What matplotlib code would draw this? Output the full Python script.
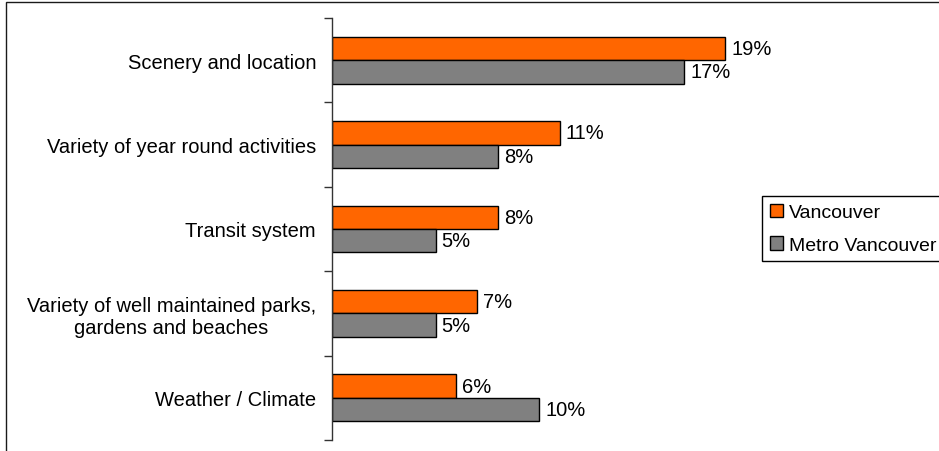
import numpy as np
import matplotlib.pyplot as plt
from matplotlib.patches import Rectangle

plt.rcParams['font.family'] = ['Liberation Sans', 'DejaVu Sans']

categories = ['Scenery and location',
              'Variety of year round activities',
              'Transit system',
              'Variety of well maintained parks,\ngardens and beaches',
              'Weather / Climate']
vancouver = [19, 11, 8, 7, 6]
metro = [17, 8, 5, 5, 10]
series_names = ['Vancouver', 'Metro Vancouver']

W, H = 939, 452
fig = plt.figure(figsize=(W / 100, H / 100), dpi=100)

# cornice del grafico originale (tagliata a destra e in basso)
fig.patches.append(Rectangle((6 / W, -0.2), 1.5, 1.2 - 3 / H, transform=fig.transFigure,
                             fill=False, edgecolor='#1a1a1a', linewidth=1.0))

ax = fig.add_axes([332 / W, 11 / H, 414 / W, 422 / H])

y = np.arange(len(categories))
h = 0.278
fs = 14.5

b1 = ax.barh(y - h / 2, vancouver, height=h, color='#FF6600', edgecolor='black', linewidth=1.0,
             label=series_names[0])
b2 = ax.barh(y + h / 2, metro, height=h, color='#808080', edgecolor='black', linewidth=1.0,
             label=series_names[1])

for bars, vals in [(b1, vancouver), (b2, metro)]:
    for bar, v in zip(bars, vals):
        ax.text(bar.get_width() + 0.3, bar.get_y() + bar.get_height() / 2, f'{v}%',
                va='center', ha='left', fontsize=fs)

ax.set_xlim(0, 20)
ax.set_ylim(len(categories) - 0.5, -0.5)

ax.set_yticks(y)
ax.set_yticklabels(categories, fontsize=fs, multialignment='center')
ax.set_yticks(np.arange(-0.5, len(categories), 1.0), minor=True)
ax.tick_params(axis='y', which='major', length=0, pad=11.5)
ax.tick_params(axis='y', which='minor', length=6, width=1.0, color='#333333')
ax.set_xticks([])

for s in ['top', 'right', 'bottom']:
    ax.spines[s].set_visible(False)
ax.spines['left'].set_color('#333333')
ax.spines['left'].set_linewidth(1.0)

leg = fig.legend(handles=[b1, b2], labels=series_names, loc='upper left',
                 bbox_to_anchor=(762 / W, 1 - 197 / H), fontsize=14,
                 frameon=True, fancybox=False, edgecolor='black', framealpha=1,
                 handlelength=0.7, handleheight=0.7, handletextpad=0.3,
                 labelspacing=0.75, borderpad=0.4, borderaxespad=0)
leg.get_frame().set_linewidth(1.0)

fig.savefig('out.png', dpi=100)
